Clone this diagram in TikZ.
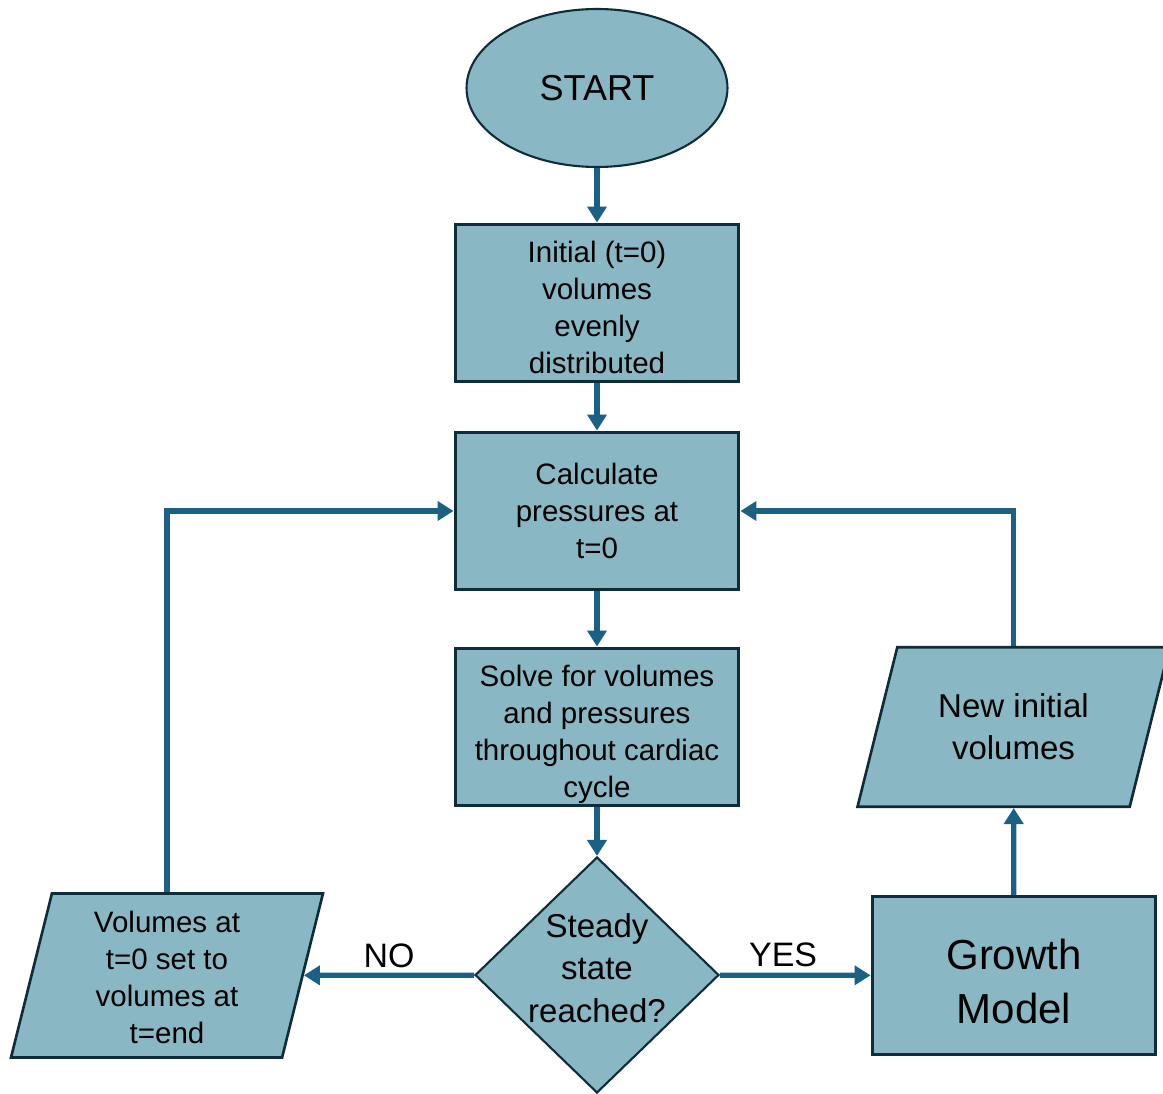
\documentclass[tikz,border=0pt]{standalone}
\usepackage{fontspec}
\setmainfont{Liberation Sans}
\usetikzlibrary{shapes.geometric,arrows.meta}
\definecolor{boxfill}{HTML}{89B8C4}
\definecolor{boxline}{HTML}{0F2C3B}
\definecolor{flowline}{HTML}{1A6185}
\begin{document}
\begin{tikzpicture}[x=0.02cm,y=-0.02cm,
  block/.style={draw=boxline,fill=boxfill,line width=1.7pt,minimum width=5.68cm,minimum height=3.16cm,align=center,inner sep=0pt,font=\fontsize{16.8}{21}\selectfont},
  iobox/.style={trapezium,trapezium left angle=76,trapezium right angle=104,trapezium stretches body,draw=boxline,fill=boxfill,line width=1.5pt,minimum width=6.24cm,inner xsep=0pt,align=center},
  flow/.style={draw=flowline,line width=3pt,-{Triangle[length=0.32cm,width=0.38cm]}},
  answer/.style={font=\fontsize{19.3}{23}\selectfont,inner sep=3pt}]
\useasboundingbox (0,0) rectangle (1163,1094);
\node[ellipse,draw=boxline,fill=boxfill,line width=1.2pt,minimum width=5.22cm,minimum height=3.16cm,font=\fontsize{20.5}{24}\selectfont] (start) at (597,88) {START};
\node[block] (init) at (597,303) {\rule{0pt}{0.6cm}Initial (t=0)\\volumes\\evenly\\distributed};
\node[block] (calc) at (597,511) {Calculate\\pressures at\\t=0};
\node[block] (solve) at (597,727) {\rule{0pt}{0.71cm}Solve for volumes\\and pressures\\throughout cardiac\\cycle};
\node[diamond,draw=boxline,fill=boxfill,line width=1.2pt,minimum width=4.88cm,minimum height=4.72cm,inner sep=-0.16cm,align=center,font=\fontsize{18.8}{24}\selectfont] (check) at (597,975) {Steady\\state\\reached?\rule[-0.28cm]{0pt}{0pt}};
\node[block,font=\fontsize{23.9}{30.5}\selectfont] (growth) at (1014,975.5) {\rule{0pt}{0.85cm}Growth\\Model};
\node[iobox,inner ysep=0.28cm,font=\fontsize{16.8}{21}\selectfont] (reset) at (167,975.5) {\rule{0pt}{0.5cm}Volumes at\\t=0 set to\\volumes at\\t=end};
\node[iobox,inner ysep=0.93cm,font=\fontsize{18.8}{24}\selectfont] (newvol) at (1013.5,727) {New initial\\volumes};
\draw[flow] (start) -- (init);
\draw[flow] (init) -- (calc);
\draw[flow] (calc) -- (solve);
\draw[flow] (solve) -- (check);
\draw[flow] (check) -- node[answer,above,pos=0.42] {YES} (growth);
\draw[flow] (check) -- node[answer,above] {NO} (reset);
\draw[flow] (reset) |- (calc);
\draw[flow] (growth) -- (newvol);
\draw[flow] (newvol) |- (calc);
\end{tikzpicture}
\end{document}
